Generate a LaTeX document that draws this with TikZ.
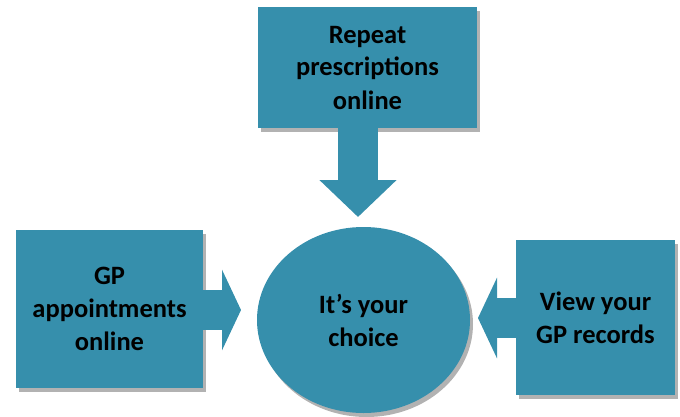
\documentclass[tikz,border=0pt]{standalone}
\usepackage{fontspec}
\setmainfont{Carlito}
\usepackage{xcolor}
\usepackage{tikz}
\usetikzlibrary{positioning,calc,shapes.geometric,arrows.meta,shadows}
\definecolor{teal1}{RGB}{54,143,172}
\tikzstyle{box}= [rectangle, fill=teal1, inner sep=0pt, align=center, font=\bfseries\fontsize{26.5}{33}\selectfont, drop shadow={shadow xshift=3pt, shadow yshift=-4pt, opacity=0.3, fill=black}]
\tikzstyle{blk}= [draw=teal1, line width=40pt, line cap=butt]

\begin{document}
\begin{tikzpicture}
					\pgfsetxvec{\pgfpoint{1pt}{0pt}} 
					\pgfsetyvec{\pgfpoint{0pt}{-1pt}} 
					\useasboundingbox (0,0) rectangle (680,416);
					\node[box, minimum width=219pt, minimum height=121pt] at (367.5,67.5) (repeat) {Repeat\\prescriptions\\online}; 
					\node[box, minimum width=187pt, minimum height=158pt] at (109.5,309) (appt) {GP\\appointments\\online}; 
					\node[box, minimum width=159pt, minimum height=155pt] at (595.5,317.5) (records) {View your\\GP records}; 
					\node[box, ellipse, minimum width=213pt, minimum height=186pt] at (363.5,320) (choice) {It’s your\\choice}; 
					\coordinate (rtip) at (358,217); 
					\coordinate (atip) at (241,310); 
					\coordinate (vtip) at (478,318); 
					\draw[blk, -{Triangle[length=37pt, width=75pt]}] (repeat.south -| rtip) -- (rtip); 
					\draw[blk, -{Triangle[length=19pt, width=80pt]}] (appt.east |- atip) -- (atip); 
					\draw[blk, -{Triangle[length=19pt, width=80pt]}] (records.west |- vtip) -- (vtip); 
				\end{tikzpicture}
\end{document}
